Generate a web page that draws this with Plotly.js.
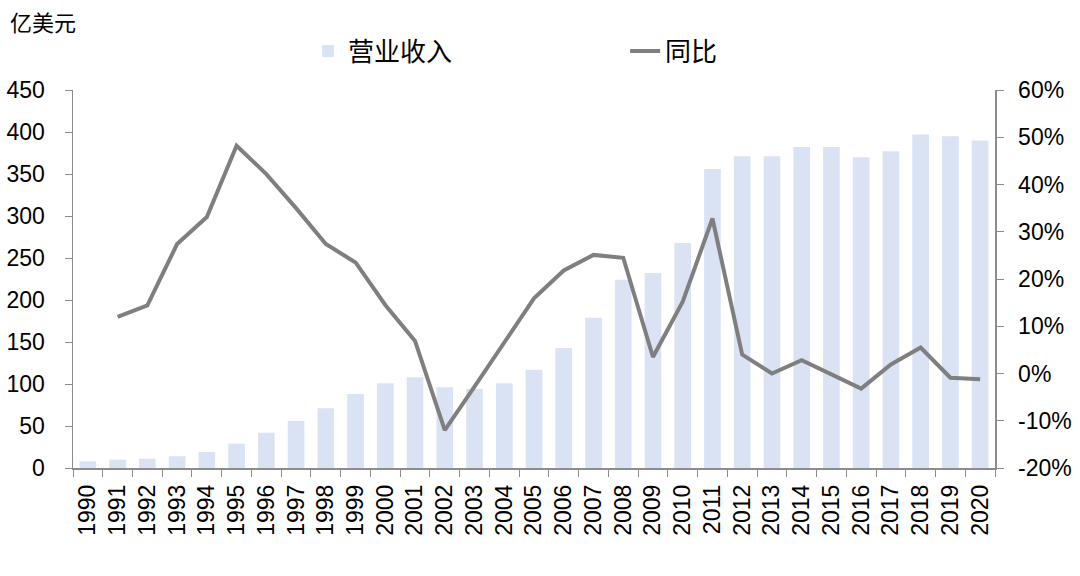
<!DOCTYPE html>
<html>
<head>
<meta charset="utf-8">
<script src="https://cdn.plot.ly/plotly-3.0.1.min.js"></script>
<style>html,body{margin:0;padding:0;background:#fff;}#chart{width:1080px;height:576px;}</style>
</head>
<body>
<div id="chart"></div>
<script>
const years = ['1990','1991','1992','1993','1994','1995','1996','1997','1998','1999','2000','2001','2002','2003','2004','2005','2006','2007','2008','2009','2010','2011','2012','2013','2014','2015','2016','2017','2018','2019','2020'];
const revenue = [8,10,11,14,19,29,42,56,71,88,101,108,96,94,101,117,143,179,224,232,268,356,371,371,382,382,370,377,397,395,390];
const yoy = [null,12.0,14.4,27.4,33.1,48.2,42.2,35.0,27.4,23.5,14.5,6.9,-12.0,-2.8,6.5,15.9,21.8,25.1,24.5,3.5,15.2,32.8,4.0,0.0,2.8,-0.2,-3.2,1.9,5.5,-0.9,-1.2];
const leftTicks = [0,50,100,150,200,250,300,350,400,450];
const rightTicks = [-20,-10,0,10,20,30,40,50,60];
const rightTickText = rightTicks.map(v => v + '%');

const cjk = '"Noto Sans CJK SC", sans-serif';
const latin = '"Liberation Sans", Arial, sans-serif';
const axisColor = '#8c8c8c';

const traces = [
  {type:'bar', name:'营业收入', x:years, y:revenue, marker:{color:'#d9e3f4'}, yaxis:'y'},
  {type:'scatter', mode:'lines', name:'同比', x:years, y:yoy, yaxis:'y2', line:{color:'#7f7f7f', width:4}, connectgaps:false}
];

const layout = {
  width:1080, height:576,
  margin:{l:73, r:85, t:90, b:108},
  paper_bgcolor:'#fff', plot_bgcolor:'#fff',
  bargap:0.44,
  showlegend:true,
  legend:{orientation:'h', x:0.255, xanchor:'left', y:1.103, yanchor:'middle',
    font:{family:cjk, size:26, color:'#000'}, entrywidth:272, entrywidthmode:'pixels', itemwidth:30},
  xaxis:{type:'category', tickson:'boundaries', ticks:'outside', ticklen:7, tickcolor:axisColor,
    showline:true, linecolor:axisColor, linewidth:1.5, showgrid:false, tickangle:-90, ticklabelstandoff:6,
    tickfont:{family:latin, size:23, color:'#000'}, fixedrange:true},
  yaxis:{range:[0,450], tickvals:leftTicks, ticks:'outside', ticklen:7, tickcolor:axisColor,
    showline:true, linecolor:axisColor, linewidth:1.5, showgrid:false, zeroline:false, ticklabelstandoff:15,
    tickfont:{family:latin, size:23, color:'#000'}},
  yaxis2:{range:[-20,60], tickvals:rightTicks, ticktext:rightTickText, overlaying:'y', side:'right',
    ticks:'outside', ticklen:7, tickcolor:axisColor, showline:true, linecolor:axisColor, linewidth:1.5,
    showgrid:false, zeroline:false, ticklabelstandoff:10, tickfont:{family:latin, size:23, color:'#000'}},
  annotations:[{text:'亿美元', xref:'paper', yref:'paper', x:-0.071, y:1.182, xanchor:'left', yanchor:'middle',
    showarrow:false, font:{family:cjk, size:22, color:'#000'}}]
};

Plotly.newPlot('chart', traces, layout, {displayModeBar:false, staticPlot:true});
</script>
</body>
</html>
